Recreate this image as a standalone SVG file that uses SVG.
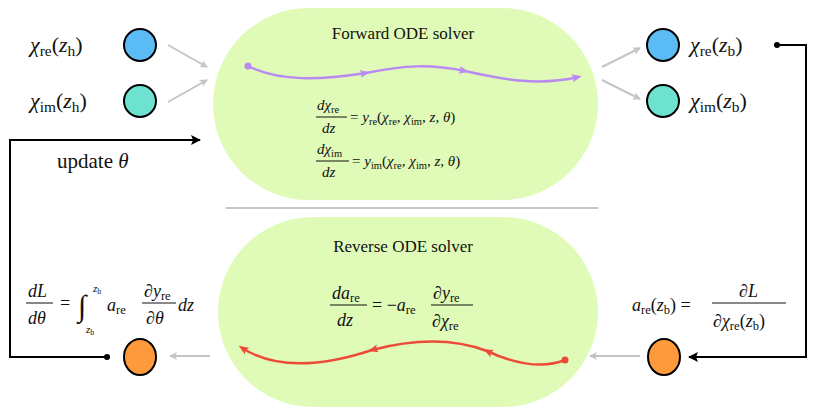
<svg xmlns="http://www.w3.org/2000/svg" width="817" height="415" viewBox="0 0 817 415">
<style>
text{font-family:"Liberation Serif","DejaVu Serif",serif;fill:#111}
.m{font-style:italic}
.s{font-size:70%;font-style:normal}
.big{font-size:22px}
.eq{font-size:15px}
.g{stroke:#c4c4c4;stroke-width:2;fill:none}
.k{stroke:#000;stroke-width:2;fill:none}
.n{stroke:#000;stroke-width:2}
.pc{fill:none;stroke:#b98af2;stroke-width:2.5}
.rc{fill:none;stroke:#ee4a3a;stroke-width:2.5}
</style>
<defs>
<marker id="ga" markerWidth="8" markerHeight="8" refX="7" refY="4" orient="auto" markerUnits="userSpaceOnUse"><path d="M0,0 L8,4 L0,8 L2,4z" fill="#c4c4c4"/></marker>
<marker id="ka" markerWidth="10" markerHeight="10" refX="9" refY="5" orient="auto" markerUnits="userSpaceOnUse"><path d="M0,0 L10,5 L0,10 L2,5z" fill="#000"/></marker>
<marker id="pa" markerWidth="10" markerHeight="10" refX="6" refY="5" orient="auto" markerUnits="userSpaceOnUse"><path d="M0,1 L10,5 L0,9 L2,5z" fill="#b98af2"/></marker>
<marker id="ra" markerWidth="10" markerHeight="10" refX="6" refY="5" orient="auto" markerUnits="userSpaceOnUse"><path d="M0,1 L10,5 L0,9 L2,5z" fill="#ee4a3a"/></marker>
</defs>
<g id="forward">
<rect x="213" y="8" width="385" height="192" rx="96" fill="#dffbb7"/>
<text x="403" y="39" text-anchor="middle" font-size="17">Forward ODE solver</text>
<text class="eq" x="317" y="110"><tspan class="m">dχ</tspan><tspan class="s" dy="3">re</tspan></text>
<line x1="316" y1="117" x2="347" y2="117" stroke="#111"/>
<text class="eq m" x="322" y="133">dz</text>
<text class="eq" x="350" y="122">= <tspan class="m">y</tspan><tspan class="s" dy="3">re</tspan><tspan dy="-3">(</tspan><tspan class="m">χ</tspan><tspan class="s" dy="3">re</tspan><tspan dy="-3">, </tspan><tspan class="m">χ</tspan><tspan class="s" dy="3">im</tspan><tspan dy="-3">, </tspan><tspan class="m">z, θ</tspan>)</text>
<text class="eq" x="317" y="154"><tspan class="m">dχ</tspan><tspan class="s" dy="3">im</tspan></text>
<line x1="316" y1="161" x2="349" y2="161" stroke="#111"/>
<text class="eq m" x="322" y="177">dz</text>
<text class="eq" x="352" y="166">= <tspan class="m">y</tspan><tspan class="s" dy="3">im</tspan><tspan dy="-3">(</tspan><tspan class="m">χ</tspan><tspan class="s" dy="3">re</tspan><tspan dy="-3">, </tspan><tspan class="m">χ</tspan><tspan class="s" dy="3">im</tspan><tspan dy="-3">, </tspan><tspan class="m">z, θ</tspan>)</text>
</g>
<g id="reverse">
<rect x="218" y="217" width="380" height="190" rx="95" fill="#dffbb7"/>
<text x="403" y="252" text-anchor="middle" font-size="17">Reverse ODE solver</text>
<text x="332" y="299" font-size="18"><tspan class="m">da</tspan><tspan class="s" dy="3">re</tspan></text>
<line x1="330" y1="305" x2="367" y2="305" stroke="#111"/>
<text class="m" x="337" y="326" font-size="18">dz</text>
<text x="372" y="311" font-size="18">= −<tspan class="m">a</tspan><tspan class="s" dy="3">re</tspan></text>
<text x="433" y="299" font-size="18">∂<tspan class="m">y</tspan><tspan class="s" dy="3">re</tspan></text>
<line x1="431" y1="305" x2="473" y2="305" stroke="#111"/>
<text x="432" y="327" font-size="18">∂<tspan class="m">χ</tspan><tspan class="s" dy="3">re</tspan></text>
</g>
<line x1="226" y1="208" x2="598" y2="208" stroke="#c4c4c4" stroke-width="2"/>
<g id="xre_h"><circle cx="140" cy="45" r="16" fill="#5bbcf5" class="n"/><text class="big" x="30" y="52"><tspan class="m">χ</tspan><tspan class="s" dy="4">re</tspan><tspan dy="-4">(</tspan><tspan class="m">z</tspan><tspan class="s" dy="4">h</tspan><tspan dy="-4">)</tspan></text></g>
<g id="xim_h"><circle cx="140" cy="101" r="16" fill="#6de3cf" class="n"/><text class="big" x="30" y="108"><tspan class="m">χ</tspan><tspan class="s" dy="4">im</tspan><tspan dy="-4">(</tspan><tspan class="m">z</tspan><tspan class="s" dy="4">h</tspan><tspan dy="-4">)</tspan></text></g>
<g id="xre_b"><circle cx="663" cy="45" r="16" fill="#5bbcf5" class="n"/><text class="big" x="690" y="52"><tspan class="m">χ</tspan><tspan class="s" dy="4">re</tspan><tspan dy="-4">(</tspan><tspan class="m">z</tspan><tspan class="s" dy="4">b</tspan><tspan dy="-4">)</tspan></text></g>
<g id="xim_b"><circle cx="663" cy="101" r="16" fill="#6de3cf" class="n"/><text class="big" x="690" y="108"><tspan class="m">χ</tspan><tspan class="s" dy="4">im</tspan><tspan dy="-4">(</tspan><tspan class="m">z</tspan><tspan class="s" dy="4">b</tspan><tspan dy="-4">)</tspan></text></g>
<g id="a_h"><ellipse cx="140" cy="357" rx="16" ry="18" fill="#ff9a3c" class="n"/>
<text x="28" y="297" class="m" font-size="18">dL</text>
<line x1="26" y1="303" x2="53" y2="303" stroke="#111"/>
<text x="28" y="324" class="m" font-size="18">dθ</text>
<text x="60" y="309" font-size="18">=</text>
<text x="78" y="316" font-size="30">∫</text>
<text x="93" y="292" class="m" font-size="11">z<tspan class="s" dy="2">h</tspan></text>
<text x="86" y="333" class="m" font-size="11">z<tspan class="s" dy="2">b</tspan></text>
<text x="107" y="311" font-size="18"><tspan class="m">a</tspan><tspan class="s" dy="3">re</tspan></text>
<text x="144" y="297" font-size="18">∂<tspan class="m">y</tspan><tspan class="s" dy="3">re</tspan></text>
<line x1="142" y1="303" x2="176" y2="303" stroke="#111"/>
<text x="146" y="324" font-size="18">∂<tspan class="m">θ</tspan></text>
<text x="178" y="311" class="m" font-size="18">dz</text></g>
<g id="a_b"><ellipse cx="664" cy="357" rx="16" ry="18" fill="#ff9a3c" class="n"/>
<text x="632" y="311" font-size="18"><tspan class="m">a</tspan><tspan class="s" dy="3">re</tspan><tspan dy="-3">(</tspan><tspan class="m">z</tspan><tspan class="s" dy="3">b</tspan><tspan dy="-3">) =</tspan></text>
<text x="739" y="297" font-size="18">∂<tspan class="m">L</tspan></text>
<line x1="712" y1="303" x2="786" y2="303" stroke="#111"/>
<text x="713" y="327" font-size="18">∂<tspan class="m">χ</tspan><tspan class="s" dy="3">re</tspan><tspan dy="-3">(</tspan><tspan class="m">z</tspan><tspan class="s" dy="3">b</tspan><tspan dy="-3">)</tspan></text></g>
<text x="57" y="168" font-size="21">update <tspan class="m">θ</tspan></text>
<g id="connectors">
<path class="g" d="M168,45 L207,67" marker-end="url(#ga)"/>
<path class="g" d="M168,102 L207,80" marker-end="url(#ga)"/>
<path class="g" d="M602,67 L640,48" marker-end="url(#ga)"/>
<path class="g" d="M602,80 L640,99" marker-end="url(#ga)"/>
<path class="g" d="M210,356 L170,356" marker-end="url(#ga)"/>
<path class="g" d="M640,356 L590,356" marker-end="url(#ga)"/>
<path class="k" d="M777,45 H806 V357 H689" marker-end="url(#ka)"/>
<circle cx="777" cy="45" r="3"/>
<path class="k" d="M107,357 H10 V140 H200" marker-end="url(#ka)"/>
<circle cx="107" cy="357" r="3"/>
<path class="pc" d="M248,66 C280,82 320,80 366,73" marker-end="url(#pa)"/>
<path class="pc" d="M366,73 C405,65 430,64 465,71" marker-end="url(#pa)"/>
<path class="pc" d="M465,71 C505,80 540,86 578,77" marker-end="url(#pa)"/>
<circle cx="248" cy="66" r="3.5" fill="#b98af2"/>
<path class="rc" d="M565,360 C540,370 510,362 487,351" marker-end="url(#ra)"/>
<path class="rc" d="M487,351 C450,337 410,340 372,350" marker-end="url(#ra)"/>
<path class="rc" d="M372,350 C330,364 280,372 242,348" marker-end="url(#ra)"/>
<circle cx="565" cy="360" r="3.5" fill="#ee4a3a"/>
</g>
</svg>
